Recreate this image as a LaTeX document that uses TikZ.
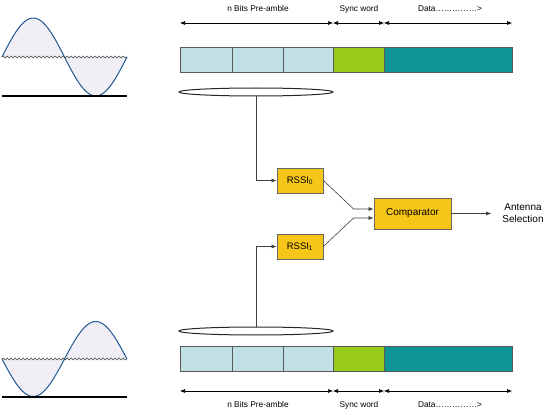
\documentclass[tikz,border=0pt]{standalone}
\usepackage{fontspec}
\setmainfont{Liberation Sans}
\usetikzlibrary{arrows.meta,shapes.geometric,decorations.pathmorphing}
\definecolor{preblue}{HTML}{C0E0E6}
\definecolor{syncgreen}{HTML}{99CC1A}
\definecolor{datateal}{HTML}{0E9494}
\definecolor{rssiyellow}{HTML}{F5C518}
\definecolor{wavefill}{HTML}{F2EEF5}
\definecolor{waveblue}{HTML}{1F5A96}
\begin{document}
\begin{tikzpicture}[x=1pt,y=-1pt,
    cell/.style={draw=black!65,line width=0.7pt,minimum height=25pt,inner sep=0pt,anchor=north west},
    block/.style={draw=black!60,line width=0.7pt,fill=rssiyellow,inner sep=0pt},
    antenna/.style={ellipse,draw=black!85,line width=1pt,minimum width=154pt,minimum height=8pt,inner sep=0pt},
    arr/.style={-{Latex[length=5pt,width=4pt]},black!75,line width=0.6pt},
    dim/.style={{Latex[length=5pt,width=4pt]}-{Latex[length=5pt,width=4pt]},line width=0.6pt},
    midline/.style={black!75,line width=0.5pt,decorate,decoration={snake,amplitude=1pt,segment length=4pt}},
    lbl/.style={font=\fontsize{8.3}{10}\selectfont,inner sep=0pt}]
    \useasboundingbox (0,0) rectangle (550,412);

    % Frames
    \foreach \xa/\w/\c [count=\i] in {180/52/preblue,232/51/preblue,283/50/preblue,333/51/syncgreen,384/128/datateal}{
        \node[cell,fill=\c,minimum width=\w] (top\i) at (\xa,47) {};
        \node[cell,fill=\c,minimum width=\w] (bot\i) at (\xa,346) {};
    }

    % Field lengths
    \foreach \ya/\yl/\n in {23/9/t,391/405/b}{
        \coordinate (\n0) at (180,\ya);
        \coordinate (\n1) at (333,\ya);
        \coordinate (\n2) at (384,\ya);
        \coordinate (\n3) at (512,\ya);
        \draw[dim] (\n0) -- (\n1);
        \draw[dim] (\n1) -- (\n2);
        \draw[dim] (\n2) -- (\n3);
        \node[lbl] (\n pre) at (258,\yl) {n Bits Pre-amble};
        \node[lbl] (\n sync) at (359,\yl) {Sync word};
        \node[lbl] (\n data) at (450,\yl) {Data……………>};
    }

    % Top signal
    \fill[wavefill] plot[domain=2:127,samples=80] (\x,{57-39*sin(2.88*(\x-2))}) -- cycle;
    \draw[waveblue,line width=1pt] plot[domain=2:127,samples=80] (\x,{57-39*sin(2.88*(\x-2))});
    \draw[midline] (2,57) -- (127,57);
    \draw[line width=1.4pt] (2,96) -- (127,96);

    % Bottom signal
    \fill[wavefill] plot[domain=2:127,samples=80] (\x,{359+37.5*sin(2.88*(\x-2))}) -- cycle;
    \draw[waveblue,line width=1pt] plot[domain=2:127,samples=80] (\x,{359+37.5*sin(2.88*(\x-2))});
    \draw[midline] (2,359) -- (127,359);
    \draw[line width=1.4pt] (2,397) -- (127,397);

    % Antennas and blocks
    \node[antenna] (ant0) at (256,92) {};
    \node[antenna] (ant1) at (256,331) {};
    \node[block,minimum width=46pt,minimum height=25pt,font=\fontsize{9.5}{11}\selectfont] (rssi0) at (300,180.5) {RSSI\textsubscript{0}};
    \node[block,minimum width=46pt,minimum height=25pt,font=\fontsize{9.5}{11}\selectfont] (rssi1) at (300,246.5) {RSSI\textsubscript{1}};
    \node[block,minimum width=77pt,minimum height=31pt,font=\fontsize{10}{12}\selectfont] (comp) at (412.5,213.5) {Comparator};
    \node[font=\fontsize{10}{12}\selectfont,align=center,inner sep=0pt] (sel) at (523,213.5) {Antenna\\Selection};

    % Connections
    \draw[arr] (ant0.south) |- (rssi0.west);
    \draw[arr] (ant1.north) |- (rssi1.west);
    \draw[arr] (rssi0.east) -- ([xshift=-20pt,yshift=4.5pt]comp.west) -- ([yshift=4.5pt]comp.west);
    \draw[arr] (rssi1.east) -- ([xshift=-20pt,yshift=-4.5pt]comp.west) -- ([yshift=-4.5pt]comp.west);
    \draw[arr,shorten >=11pt] (comp.east) -- (comp.east -| sel.west);
\end{tikzpicture}
\end{document}
